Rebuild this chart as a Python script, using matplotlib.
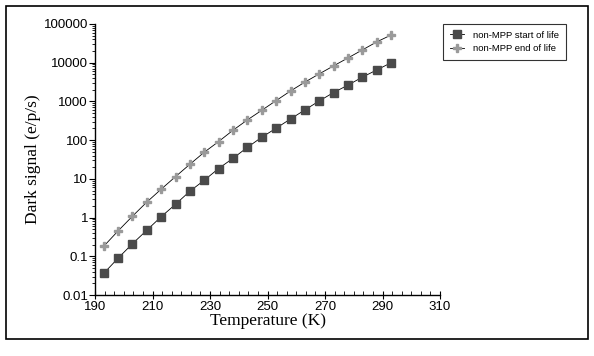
import numpy as np
import matplotlib
matplotlib.use("Agg")
import matplotlib.pyplot as plt
from matplotlib.ticker import AutoMinorLocator, LogLocator, FixedLocator
from matplotlib.patches import Rectangle

temperature = [193, 198, 203, 208, 213, 218, 223, 228, 233, 238, 243,
               248, 253, 258, 263, 268, 273, 278, 283, 288, 293]
start_of_life = [0.036, 0.089, 0.21, 0.47, 1.05, 2.2, 4.8, 9.2, 18.5, 34, 65,
                 119, 203, 353, 603, 1030, 1700, 2640, 4240, 6500, 10000]
end_of_life = [0.18, 0.45, 1.08, 2.5, 5.4, 11.4, 23.8, 48.7, 92, 180, 333,
               590, 1050, 1860, 3150, 5150, 8300, 13300, 21400, 34500, 52000]
x_ticks = [190, 210, 230, 250, 270, 290, 310]
y_ticks = [0.01, 0.1, 1, 10, 100, 1000, 10000, 100000]
y_labels = ["0.01", "0.1", "1", "10", "100", "1000", "10000", "100000"]

fig = plt.figure(figsize=(5.94, 3.56), dpi=100)
fig.patches.append(Rectangle((6 / 594, 1 - 339 / 356), 582 / 594, 333 / 356,
                             transform=fig.transFigure, fill=False,
                             edgecolor="black", linewidth=1.2))
ax = fig.add_axes([95 / 594, 1 - 295 / 356, 345 / 594, 271 / 356])

ax.plot(temperature, start_of_life, color="black", lw=0.6, marker="s",
        markersize=6, markerfacecolor="#4a4a4a", markeredgecolor="#4a4a4a",
        label="non-MPP start of life")
ax.plot(temperature, end_of_life, color="black", lw=0.6, marker="P",
        markersize=6, markerfacecolor="#9a9a9a", markeredgecolor="#9a9a9a",
        label="non-MPP end of life")

ax.set_yscale("log")
ax.set_xlim(190, 310)
ax.set_ylim(0.01, 100000)
ax.xaxis.set_major_locator(FixedLocator(x_ticks))
ax.xaxis.set_minor_locator(AutoMinorLocator(6))
ax.yaxis.set_major_locator(FixedLocator(y_ticks))
ax.set_yticklabels(y_labels)
ax.yaxis.set_minor_locator(LogLocator(base=10, subs=np.arange(2, 10), numticks=20))
ax.yaxis.set_minor_formatter(plt.NullFormatter())

for s in ["top", "right"]:
    ax.spines[s].set_visible(False)
ax.spines["left"].set_linewidth(1.0)
ax.spines["bottom"].set_linewidth(1.0)

for lab in ax.get_xticklabels() + ax.get_yticklabels():
    lab.set_fontfamily("Liberation Sans")
    lab.set_fontsize(9.5)
ax.tick_params(axis="y", which="major", direction="out", length=4, width=0.8, pad=1)
ax.tick_params(axis="y", which="minor", direction="out", length=2.5, width=0.6)
ax.tick_params(axis="x", which="major", direction="inout", length=6, width=0.8, pad=1)
ax.tick_params(axis="x", which="minor", direction="in", length=3, width=0.6)

ax.set_xlabel("Temperature (K)", fontfamily="Liberation Serif", fontsize=12.5, labelpad=0)
ax.set_ylabel("Dark signal (e/p/s)", fontfamily="Liberation Serif", fontsize=12.5, labelpad=2)

leg = ax.legend(loc="upper left", bbox_to_anchor=(443 / 594, 1 - 24 / 356),
                bbox_transform=fig.transFigure, frameon=True, fancybox=False,
                prop={"family": "Liberation Sans", "size": 6.8},
                handlelength=1.5, borderpad=0.7, labelspacing=0.5,
                handletextpad=1.0, borderaxespad=0)
leg.get_frame().set_edgecolor("black")
leg.get_frame().set_linewidth(0.8)

fig.savefig("out.png", dpi=100)
